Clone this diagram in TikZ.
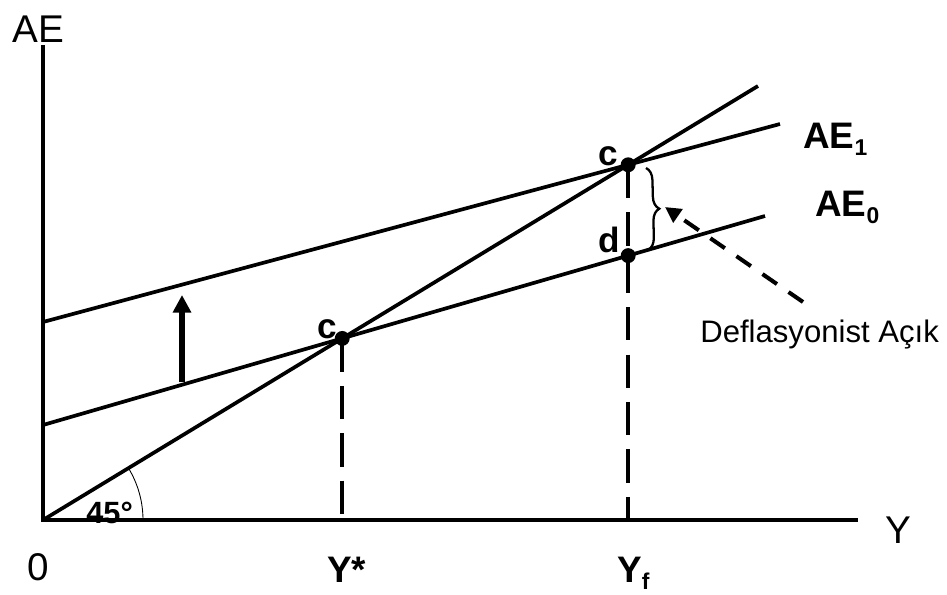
\documentclass[tikz,border=0pt]{standalone}
\usepackage{fontspec}
\setmainfont{Liberation Sans}
\usetikzlibrary{arrows.meta,decorations.pathreplacing}
\newcommand\sbs[1]{\raisebox{-0.4ex}{\fontsize{13}{13}\selectfont #1}}
\begin{document}
\begin{tikzpicture}[x=0.02cm,y=-0.02cm,
  mainline/.style={line width=2.1pt},
  axisline/.style={line width=2.5pt},
  guide/.style={line width=2.4pt, dash pattern=on 19pt off 8pt},
  pointer/.style={line width=2.3pt, dash pattern=on 10pt off 8pt, -{Triangle[length=9pt,width=9pt]}},
  dot/.style={circle,fill=black,inner sep=0pt,minimum size=8.5pt},
  txt/.style={anchor=base west,inner sep=0pt,font=\fontsize{22}{22}\selectfont},
  bold/.style={anchor=base west,inner sep=0pt,font=\fontsize{#1}{#1}\selectfont\bfseries},
  bold/.default=20]
\useasboundingbox (0,0) rectangle (947,595);
% coordinates
\coordinate (O) at (43,520);
\coordinate (Ytop) at (43,45);
\coordinate (Xend) at (858,520);
\coordinate (L45) at (758,86);
\coordinate (A0s) at (43,425);
\coordinate (A0e) at (765,216);
\coordinate (A1s) at (43,322);
\coordinate (A1e) at (780,124);
\coordinate (c1) at (intersection of O--L45 and A0s--A0e);
\coordinate (c2) at (intersection of O--L45 and A1s--A1e);
\coordinate (c1b) at (c1 |- O);
\coordinate (c2b) at (c2 |- O);
\coordinate (d) at (intersection of A0s--A0e and c2--c2b);
\coordinate (arrA) at (182,382);
\coordinate (arrB) at (182,295);
\coordinate (bt) at (646,168);
\coordinate (bb) at (648,250);
\coordinate (ptrS) at (803,302);
\coordinate (ptrE) at (665,207);
% axes
\draw[axisline] (Ytop) -- (O) -- (Xend);
% lines
\draw[mainline] (O) -- (L45);
\draw[mainline] (A0s) -- (A0e);
\draw[mainline] (A1s) -- (A1e);
% guides
\draw[guide] (c1) -- (c1b);
\draw[guide] (c2) -- (c2b);
% dots
\node[dot] (n1) at (c1) {};
\node[dot] (n2) at (c2) {};
\node[dot] (n3) at (d) {};
% shift arrow
\draw[line width=3pt, -{Triangle[length=10pt,width=10pt]}] (arrA) -- (arrB);
% brace
\draw[line width=1.3pt, decorate, decoration={brace, amplitude=7pt}] (bt) -- (bb);
% pointer
\draw[pointer] (ptrS) -- (ptrE);
% angle arc
\draw[line width=0.5pt] (143,520) arc[start angle=0, end angle=-31.3, radius=100];
% labels
\node[txt] (lAE) at (12,42) {AE};
\node[txt] (lY) at (885,543) {Y};
\node[txt] (l0) at (27,580) {0};
\node[bold=21] (lYs) at (327,582) {Y*};
\node[bold=21] (lYf) at (617,582) {Y\sbs{f}};
\node[bold=21] (lAE1) at (803,148) {AE\sbs{1}};
\node[bold=21] (lAE0) at (815,216) {AE\sbs{0}};
\node[bold] (lc1) at (317,338) {c};
\node[bold] (lc2) at (598,165) {c};
\node[bold] (ld) at (598,252) {d};
\node[bold=17.5] (l45) at (86,523) {45°};
\node[anchor=base west,inner sep=0pt,font=\fontsize{17.7}{17.7}\selectfont] (lDef) at (700,342) {Deflasyonist Açık};
\end{tikzpicture}
\end{document}
